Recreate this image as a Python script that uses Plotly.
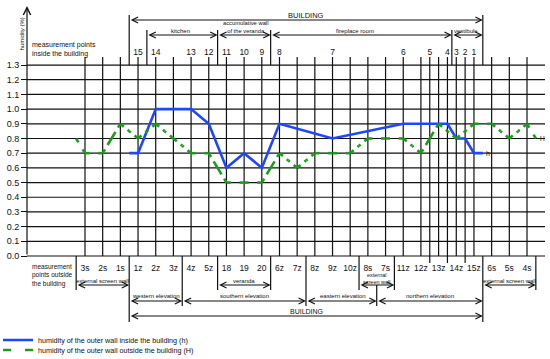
import plotly.graph_objects as go

# ---------------- data ----------------
inside_labels = ["15", "14", "13", "12", "11", "10", "9", "8", "7", "6", "5", "4", "3", "2", "1"]
inside_pos = [3, 4, 6, 7, 8, 9, 10, 11, 14, 18, 19.5, 20.5, 21, 21.5, 22]
inside_h = [0.7, 1.0, 1.0, 0.9, 0.6, 0.7, 0.6, 0.9, 0.8, 0.9, 0.9, 0.9, 0.8, 0.8, 0.7]
h_ends_pos = [2.5, 22.5]          # building walls
h_ends_val = [0.7, 0.7]

outside_labels = ["3s", "2s", "1s", "1z", "2z", "3z", "4z", "5z", "18", "19", "20", "6z", "7z",
                  "8z", "9z", "10z", "8s", "7s", "11z", "12z", "13z", "14z", "15z", "6s", "5s", "4s"]
outside_pos = list(range(26))
outside_H = [0.7, 0.7, 0.9, 0.8, 0.9, 0.8, 0.7, 0.7, 0.5, 0.5, 0.5, 0.7, 0.6,
             0.7, 0.7, 0.7, 0.8, 0.8, 0.8, 0.7, 0.9, 0.8, 0.9, 0.9, 0.8, 0.9]
H_ends_pos = [-0.5, 25.5]
H_ends_val = [0.8, 0.8]

y_ticks = [0.0, 0.1, 0.2, 0.3, 0.4, 0.5, 0.6, 0.7, 0.8, 0.9, 1.0, 1.1, 1.2, 1.3]
y_labels = ["0.0", "0.1", "0.2", "0.3", "0.4", "0.5", "0.6", "0.7", "0.8", "0.9", "1.0", "1.1", "1.2", "1.3"]

# brackets: (label, start, end)
top_building = [("BUILDING", 2.5, 22.5)]
top_rooms = [("kitchen", 3.5, 7.5), ("accumulative wall<br>of the veranda", 7.5, 10.5),
             ("fireplace room", 10.5, 20.75), ("vestibule", 20.75, 22.5)]
bottom_walls = [("external screen wall", -0.5, 2.5), ("veranda", 7.5, 10.5),
                ("external<br>screen wall", 15.5, 17.5), ("external screen wall", 22.5, 25.5)]
bottom_elev = [("western elevation", 2.5, 5.5), ("southern elevation", 5.5, 12.5),
               ("eastern elevation", 12.5, 16.5), ("northern elevation", 16.5, 22.5)]
bottom_building = [("BUILDING", 2.5, 22.5)]

# ---------------- geometry helpers (pixel -> data) ----------------
X0, DX = 85.0, 17.68
Y0, DY = 256.0, 146.9
W, Hh = 550, 359


def px(p):
    return (p - X0) / DX


def py(p):
    return (Y0 - p) / DY


FONT = "Liberation Sans, Arial, sans-serif"
BLUE = "#1e46ff"
GREEN = "#1a9e1a"
INK = "#111111"

fig = go.Figure()

# blue line: inside
bx = [h_ends_pos[0]] + inside_pos + [h_ends_pos[1]]
by = [h_ends_val[0]] + inside_h + [h_ends_val[1]]
fig.add_trace(go.Scatter(x=bx, y=by, mode="lines", name="humidity of the outer wall inside the building (h)",
                         line=dict(color=BLUE, width=2.6), legend="legend", cliponaxis=False))

# green dashed line: outside, dashes centred on every vertex
gx = [H_ends_pos[0]] + outside_pos + [H_ends_pos[1]]
gy = [H_ends_val[0]] + outside_H + [H_ends_val[1]]
DASH = "4.5px,5px,8px,5px,8px,5px,8px,300px"
for i in range(len(gx) - 1):
    mx = (gx[i] + gx[i + 1]) / 2
    my = (gy[i] + gy[i + 1]) / 2
    for sx, sy in ((gx[i], gy[i]), (gx[i + 1], gy[i + 1])):
        fig.add_trace(go.Scatter(x=[sx, mx], y=[sy, my], mode="lines", showlegend=False,
                                 hoverinfo="skip", line=dict(color=GREEN, width=2.6, dash=DASH),
                                 cliponaxis=False))
fig.add_trace(go.Scatter(x=[None], y=[None], mode="lines",
                         name="humidity of the outer wall outside the building (H)",
                         line=dict(color=GREEN, width=2.6, dash="8px,14px"), legend="legend2"))

shapes = []
LW = 1.2


def vline(x, y0, y1, w=LW):
    shapes.append(dict(type="line", xref="x", yref="y", x0=x, x1=x, y0=y0, y1=y1,
                       line=dict(color=INK, width=w), layer="below"))


def hline(y, x0, x1, w=LW):
    shapes.append(dict(type="line", xref="x", yref="y", x0=x0, x1=x1, y0=y, y1=y,
                       line=dict(color=INK, width=w), layer="below"))


# horizontal grid
for v in y_ticks:
    hline(v, px(27), px(545))
# vertical grid
for p in sorted(set(outside_pos) | set(inside_pos)):
    vline(p, 0 if float(p).is_integer() else py(263), py(57))

# top bracket verticals
vline(2.5, py(65), py(15))
vline(22.5, py(65), py(15))
for xv in (3.5, 7.5, 10.5, 20.75):
    vline(xv, py(65), py(30))

# bottom separators
for xv, bot in ((-0.5, 290), (2.5, 322), (5.5, 306), (7.5, 290), (10.5, 290), (12.5, 306),
                (15.5, 290), (17.5, 290), (22.5, 322), (25.5, 290)):
    vline(xv, 0, py(bot))
vline(16.5, py(285), py(306))

annotations = []


def arrow(x0, x1, y):
    annotations.append(dict(x=x1, y=y, ax=x0, ay=y, xref="x", yref="y", axref="x", ayref="y",
                            text="", showarrow=True, arrowside="end+start", arrowhead=5,
                            startarrowhead=5, arrowsize=1.0, startarrowsize=1.0, arrowwidth=1.2,
                            arrowcolor=INK, standoff=0, startstandoff=0))


def label(text, x, y, size=6.5, xanchor="center", align="center", angle=0, pad=1):
    annotations.append(dict(x=x, y=y, xref="x", yref="y", text=text, showarrow=False,
                            xanchor=xanchor, yanchor="middle", align=align, textangle=angle,
                            borderpad=pad, font=dict(family=FONT, size=size, color=INK)))


# rows of brackets
for name, a, b in top_building:
    arrow(a, b, py(20))
    label(name, (a + b) / 2, py(15), size=7.5)
room_lbl = {"kitchen": (5.4, 31), "fireplace room": (15.25, 31), "vestibule": (21.55, 31)}
for name, a, b in top_rooms:
    arrow(a, b, py(35))
    if name in room_lbl:
        label(name, room_lbl[name][0], py(room_lbl[name][1]), size=6)
    else:
        label(name, 9.1, py(26.5), size=5.8)
for name, a, b in bottom_walls:
    arrow(a, b, py(285))
    if "<br>" in name:
        label(name, (a + b) / 2, py(278.5), size=5.5, pad=0)
    else:
        label(name, (a + b) / 2, py(281), size=6)
for name, a, b in bottom_elev:
    arrow(a, b, py(301))
elev_lbl = [4.0, 9.0, 14.6, 19.5]
for (name, a, b), c in zip(bottom_elev, elev_lbl):
    label(name, c, py(296), size=6)
for name, a, b in bottom_building:
    arrow(a, b, py(316))
    label(name, (a + b) / 2, py(311), size=7)

# y axis with arrow
annotations.append(dict(x=px(27), y=py(6), ax=px(27), ay=0, xref="x", yref="y", axref="x", ayref="y",
                        text="", showarrow=True, arrowhead=5, arrowsize=1.2, arrowwidth=1.2,
                        arrowcolor=INK, standoff=0))
label("humidity (%)", px(21.5), py(34), size=6, angle=-90)

label("measurement points<br>inside the building", px(30), py(49.5), size=7, xanchor="left", align="left")
label("measurement<br>points outside<br>the building", px(30), py(275), size=6.5, xanchor="left", align="left")

# line-end markers
label("h", h_ends_pos[1] + 0.05, h_ends_val[1], size=7, xanchor="left")
label("H", px(547), H_ends_val[1], size=6.5, xanchor="right")

fig.update_layout(
    width=W, height=Hh, margin=dict(l=0, r=0, t=0, b=0, autoexpand=False),
    paper_bgcolor="white", plot_bgcolor="white",
    font=dict(family=FONT, color=INK),
    xaxis=dict(range=[px(0), px(W)], domain=[0, 1], anchor="free", position=1 - 256 / Hh,
               tickmode="array", tickvals=outside_pos, ticktext=outside_labels, tickangle=0,
               ticks="", showgrid=False, zeroline=False, showline=False,
               tickfont=dict(size=8.5, family=FONT, color=INK), ticklabelstandoff=5),
    xaxis2=dict(range=[px(0), px(W)], overlaying="x", side="top", anchor="free", position=1 - 57 / Hh,
                tickmode="array", tickvals=inside_pos, ticktext=inside_labels, tickangle=0,
                ticks="", showgrid=False, zeroline=False, showline=False,
                tickfont=dict(size=8.5, family=FONT, color=INK)),
    yaxis=dict(range=[py(Hh), py(0)], domain=[0, 1], anchor="free", position=27 / W,
               tickmode="array", tickvals=y_ticks, ticktext=y_labels,
               ticks="outside", ticklen=6, tickwidth=1.2, tickcolor=INK,
               showgrid=False, zeroline=False, showline=False,
               tickfont=dict(size=9, family=FONT, color=INK)),
    shapes=shapes, annotations=annotations,
    legend=dict(x=0.0, y=1 - 340 / Hh, xanchor="left", yanchor="middle", bgcolor="rgba(0,0,0,0)",
                font=dict(size=7.2, family=FONT, color=INK), itemwidth=30, indentation=-2),
    legend2=dict(x=0.0, y=1 - 350 / Hh, xanchor="left", yanchor="middle", bgcolor="rgba(0,0,0,0)",
                 font=dict(size=7.2, family=FONT, color=INK), itemwidth=30, indentation=-2),
    showlegend=True,
)
# dummy trace to activate the top axis
fig.add_trace(go.Scatter(x=[None], y=[None], xaxis="x2", showlegend=False, hoverinfo="skip"))

fig.write_html("out.html", config={"displayModeBar": False},
               post_script="document.body.style.margin='0';")
